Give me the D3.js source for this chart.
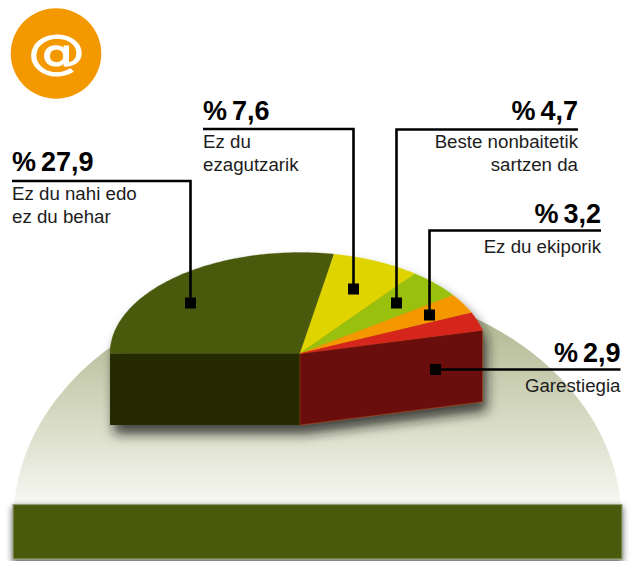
<!DOCTYPE html>
<html><head><meta charset="utf-8">
<script src="https://cdn.jsdelivr.net/npm/d3@7"></script>
<style>
html,body{margin:0;padding:0;background:#fff}
svg{display:block}
text{font-family:"Liberation Sans",Arial,sans-serif;fill:#111}
.v{font-weight:700;font-size:27px;fill:#000;word-spacing:-2.5px}
.s{font-size:18.7px;fill:#1c1c1c}
</style></head><body>
<div id="c"></div>
<script>
const categories=["Ez du nahi edo ez du behar","Ez du ezagutzarik","Beste nonbaitetik sartzen da","Ez du ekiporik","Garestiegia"];
const values=[27.9,7.6,4.7,3.2,2.9];
const valueLabels=["% 27,9","% 7,6","% 4,7","% 3,2","% 2,9"];
const labelLines=[["Ez du nahi edo","ez du behar"],["Ez du","ezagutzarik"],["Beste nonbaitetik","sartzen da"],["Ez du ekiporik"],["Garestiegia"]];
const colors=["#4a5a0c","#dfd300","#98c00c","#f59800","#d6261c"];
const wholePie=100;

// layout of the callouts: anchor side, text x, rule y, value baseline, first sub baseline, marker
const callouts=[
 {a:"start",x:12,ry:181,vy:170.5,sy:200,mx:190.5,my:303},
 {a:"start",x:203,ry:129,vy:119.5,sy:148,mx:353.5,my:289},
 {a:"end",x:578,ry:129.5,vy:119.5,sy:148,mx:396.5,my:303},
 {a:"end",x:601,ry:230.5,vy:222.5,sy:252.5,mx:429.5,my:315},
 {a:"end",x:620.5,ry:369.5,vy:361.5,sy:391.5,mx:435.5,my:369.5}
];

const W=631,H=561;
const svg=d3.select("#c").append("svg").attr("width",W).attr("height",H);
const defs=svg.append("defs");

const domeGrad=defs.append("linearGradient").attr("id","dome").attr("gradientUnits","userSpaceOnUse")
  .attr("x1",0).attr("x2",0).attr("y1",320).attr("y2",505);
domeGrad.append("stop").attr("offset","0").attr("stop-color","#b3b994");
domeGrad.append("stop").attr("offset","0.55").attr("stop-color","#d8dbc5");
domeGrad.append("stop").attr("offset","1").attr("stop-color","#f7f8f3");

const sh=defs.append("filter").attr("id","pieShadow").attr("x","-20%").attr("y","-20%").attr("width","140%").attr("height","150%");
sh.append("feDropShadow").attr("dx",4).attr("dy",9).attr("stdDeviation",6).attr("flood-color","#1c1c14").attr("flood-opacity",.78);
const sh2=defs.append("filter").attr("id","barShadow").attr("x","-5%").attr("y","-20%").attr("width","110%").attr("height","140%");
sh2.append("feDropShadow").attr("dx",0).attr("dy",3).attr("stdDeviation",3).attr("flood-color","#222").attr("flood-opacity",.75);

// icon
svg.append("circle").attr("cx",56).attr("cy",53.5).attr("r",45.3).attr("fill","#f49800");
svg.append("text").attr("transform","translate(56.5,68) scale(1,.82)").attr("text-anchor","middle")
  .style("font-family","'DejaVu Sans'").style("font-size","57px").style("fill","#fff")
  .style("stroke","#fff").style("stroke-width","1.3px").text("@");

// dome
const domeCx=317.5,domeCy=520,domeRx=304,domeRy=236;
defs.append("clipPath").attr("id","domeClip").append("rect").attr("x",0).attr("y",0).attr("width",W).attr("height",505);
svg.append("ellipse").attr("cx",domeCx).attr("cy",domeCy).attr("rx",domeRx).attr("ry",domeRy)
  .attr("fill","url(#dome)").attr("clip-path","url(#domeClip)");

// bar
svg.append("rect").attr("x",13).attr("y",504.5).attr("width",609).attr("height",54.5)
  .attr("fill","#4a5a0c").attr("stroke","#939c78").attr("stroke-width",1.2).attr("filter","url(#barShadow)");

// pie: fractions of a whole disc, starting at the left, seen in perspective
const cx=300,cy=353.5,depth=71.5;
const px=d3.scaleLinear().domain([-1,0,1]).range([110,cx,487.5]);
const py=d3.scaleLinear().domain([-1,1]).range([cy+101,cy-101]);
const total=d3.sum(values);
const start=-Math.PI/2;
const arcs=d3.pie().sort(null).startAngle(start).endAngle(start+2*Math.PI*total/wholePie)(values);
const pt=a=>[px(Math.sin(a)),py(Math.cos(a))];
const line=d3.line();
const slicePts=d=>{
  const n=Math.max(4,Math.ceil((d.endAngle-d.startAngle)/0.02));
  const pts=d3.range(n+1).map(i=>pt(d.startAngle+(d.endAngle-d.startAngle)*i/n));
  return [[cx,cy],...pts];
};
const endPt=pt(arcs[arcs.length-1].endAngle);
const g=svg.append("g").attr("filter","url(#pieShadow)");
g.append("path").attr("d",line([[px(-1),cy],[cx,cy],[cx,cy+depth],[px(-1),cy+depth]])+"Z").attr("fill","#282b05");
g.append("path").attr("d",line([[cx,cy],endPt,[endPt[0],endPt[1]+depth],[cx,cy+depth]])+"Z")
  .attr("fill","#6b110d").attr("stroke","#a8400f").attr("stroke-width",.5);
g.selectAll("path.sl").data(arcs).join("path").attr("class","sl")
  .attr("d",d=>line(slicePts(d))+"Z").attr("fill",(d,i)=>colors[i]).attr("stroke",(d,i)=>colors[i]).attr("stroke-width",.3);

// callouts
callouts.forEach((c,i)=>{
  const pathPts=i===4?[[c.x,c.ry],[c.mx,c.ry]]:[[c.x,c.ry],[c.mx,c.ry],[c.mx,c.my]];
  svg.append("path").attr("d",line(pathPts)).attr("fill","none").attr("stroke","#000").attr("stroke-width",2.6);
  svg.append("rect").attr("x",c.mx-5.5).attr("y",c.my-5.5).attr("width",11).attr("height",11).attr("fill","#000");
  svg.append("text").attr("class","v").attr("x",c.x).attr("y",c.vy).attr("text-anchor",c.a).text(valueLabels[i]);
  labelLines[i].forEach((t,j)=>svg.append("text").attr("class","s").attr("x",c.x).attr("y",c.sy+j*22.8).attr("text-anchor",c.a).text(t));
});
</script>
</body></html>
